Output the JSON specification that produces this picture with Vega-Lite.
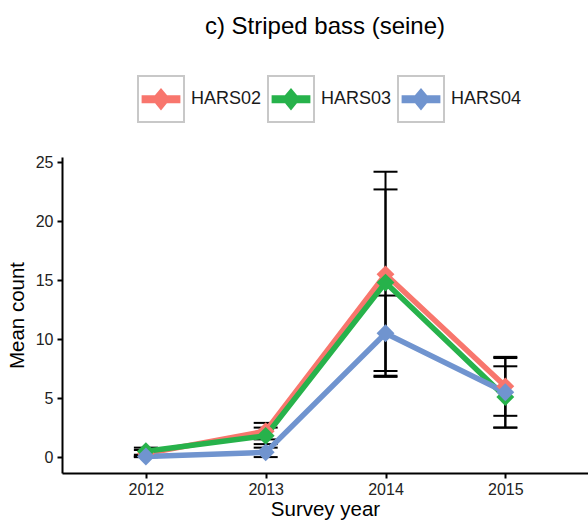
{
  "$schema": "https://vega.github.io/schema/vega-lite/v6.json",
  "width": 526,
  "height": 316,
  "autosize": {"type": "none"},
  "padding": {"left": 62, "top": 157, "right": 0, "bottom": 50},
  "background": "white",
  "config": {
    "font": "Liberation Sans",
    "view": {"stroke": null},
    "axis": {"grid": false, "domainColor": "black", "domainWidth": 2, "tickColor": "black", "tickWidth": 2, "tickSize": 5, "labelColor": "#222", "labelFontSize": 16, "titleFontSize": 20.5, "titleFontWeight": "normal", "titleColor": "black", "labelFont": "Liberation Sans", "titleFont": "Liberation Sans"}
  },
  "title": {"text": "c) Striped bass (seine)", "fontSize": 24, "fontWeight": "normal", "color": "black", "font": "Liberation Sans", "anchor": "middle", "frame": "group", "offset": 36},
  "data": {"values": [
    {"site": "HARS02", "year": 2012, "mean": 0.3, "lo": 0.0, "hi": 0.6},
    {"site": "HARS02", "year": 2013, "mean": 2.2, "lo": 1.5, "hi": 2.9},
    {"site": "HARS02", "year": 2014, "mean": 15.5, "lo": 6.8, "hi": 24.2},
    {"site": "HARS02", "year": 2015, "mean": 6.0, "lo": 3.5, "hi": 8.4},
    {"site": "HARS03", "year": 2012, "mean": 0.5, "lo": 0.2, "hi": 0.8},
    {"site": "HARS03", "year": 2013, "mean": 1.8, "lo": 1.1, "hi": 2.5},
    {"site": "HARS03", "year": 2014, "mean": 14.8, "lo": 6.9, "hi": 22.7},
    {"site": "HARS03", "year": 2015, "mean": 5.1, "lo": 2.5, "hi": 7.7},
    {"site": "HARS04", "year": 2012, "mean": 0.05, "lo": 0.0, "hi": 0.1},
    {"site": "HARS04", "year": 2013, "mean": 0.4, "lo": 0.0, "hi": 0.8},
    {"site": "HARS04", "year": 2014, "mean": 10.5, "lo": 7.3, "hi": 13.7},
    {"site": "HARS04", "year": 2015, "mean": 5.5, "lo": 2.5, "hi": 8.5}
  ]},
  "encoding": {
    "x": {"field": "year", "type": "quantitative", "scale": {"domain": [2011.3, 2015.69], "nice": false, "zero": false},
          "axis": {"values": [2012, 2013, 2014, 2015], "format": "d", "title": "Survey year", "labelPadding": 3, "titlePadding": 2}}
  },
  "layer": [
    {
      "mark": {"type": "rule", "color": "black", "strokeWidth": 2},
      "encoding": {
        "y": {"field": "lo", "type": "quantitative", "scale": {"domain": [-1.35, 25.45], "nice": false, "zero": false},
              "axis": {"values": [0, 5, 10, 15, 20, 25], "title": "Mean count", "labelPadding": 4, "titlePadding": 8}},
        "y2": {"field": "hi"}
      }
    },
    {
      "mark": {"type": "tick", "orient": "horizontal", "color": "black", "size": 24, "thickness": 2, "opacity": 1},
      "encoding": {"y": {"field": "hi", "type": "quantitative"}}
    },
    {
      "mark": {"type": "tick", "orient": "horizontal", "color": "black", "size": 24, "thickness": 2, "opacity": 1},
      "encoding": {"y": {"field": "lo", "type": "quantitative"}}
    },
    {
      "mark": {"type": "line", "strokeWidth": 5.5},
      "encoding": {
        "y": {"field": "mean", "type": "quantitative"},
        "color": {"field": "site", "type": "nominal", "scale": {"range": ["#F8766D", "#27B24B", "#7094CF"]},
          "legend": {"orient": "none", "legendX": 75, "legendY": -82, "direction": "horizontal", "title": null,
            "symbolType": "M-0.8,-0.13L-0.24,-0.13L0,-0.42L0.24,-0.13L0.8,-0.13L0.8,0.13L0.24,0.13L0,0.42L-0.24,0.13L-0.8,0.13Z",
            "symbolSize": 2116, "symbolStrokeWidth": 2, "symbolOpacity": 1,
            "labelFontSize": 18, "labelColor": "#1a1a1a", "labelFont": "Liberation Sans", "labelOffset": 6, "columnPadding": 5, "padding": 0,
            "encode": {"symbols": {"update": {"fill": {"scale": "color", "field": "value"}, "stroke": {"value": "transparent"}}}}}}
      }
    },
    {
      "mark": {"type": "point", "shape": "diamond", "filled": true, "size": 320, "opacity": 1},
      "encoding": {
        "y": {"field": "mean", "type": "quantitative"},
        "color": {"field": "site", "type": "nominal"}
      }
    },
    {
      "mark": {"type": "point", "opacity": 0, "size": 10},
      "encoding": {
        "y": {"field": "mean", "type": "quantitative"},
        "shape": {"field": "site", "type": "nominal",
          "scale": {"domain": ["HARS02", "HARS03", "HARS04"], "range": ["square", "square", "square"]},
          "legend": {"orient": "none", "legendX": 75, "legendY": -82, "direction": "horizontal", "title": null,
            "symbolSize": 2116, "symbolStrokeWidth": 2, "symbolStrokeColor": "#c8c8c8", "symbolFillColor": "transparent", "symbolOpacity": 1,
            "labelExpr": "''", "labelFontSize": 18, "labelOffset": 6, "columnPadding": 73, "padding": 0}}
      }
    }
  ]
}
